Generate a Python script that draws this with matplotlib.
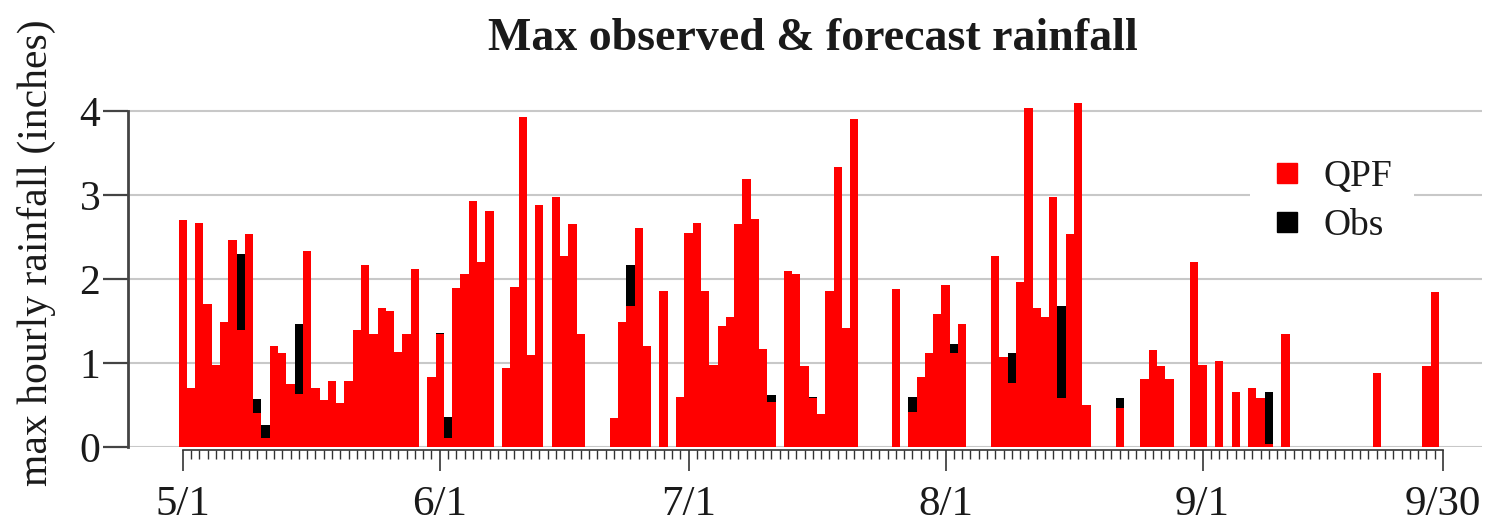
import numpy as np
import pandas as pd
import matplotlib
matplotlib.use("Agg")
import matplotlib.pyplot as plt
from matplotlib.lines import Line2D

# daily max hourly rainfall, 5/1 .. 9/30
days = pd.date_range("2021-05-01", "2021-09-30", freq="D")

qpf = [
    2.70, 0.70, 2.67, 1.70, 0.98, 1.49, 2.46, 1.39, 2.54, 0.40,
    0.11, 1.20, 1.12, 0.75, 0.63, 2.33, 0.70, 0.56, 0.79, 0.52,
    0.79, 1.39, 2.17, 1.34, 1.65, 1.62, 1.13, 1.34, 2.12, 0.00,
    0.83, 1.34, 0.11, 1.89, 2.06, 2.93, 2.20, 2.81, 0.00, 0.94,
    1.91, 3.93, 1.10, 2.88, 0.00, 2.98, 2.27, 2.65, 1.34, 0.00,
    0.00, 0.00, 0.34, 1.49, 1.68, 2.61, 1.20, 0.00, 1.86, 0.00,
    0.60, 2.55, 2.67, 1.86, 0.98, 1.44, 1.55, 2.65, 3.19, 2.72,
    1.17, 0.54, 0.00, 2.10, 2.06, 0.97, 0.58, 0.39, 1.86, 3.33,
    1.42, 3.91, 0.00, 0.00, 0.00, 0.00, 1.88, 0.00, 0.42, 0.83,
    1.12, 1.58, 1.93, 1.12, 1.46, 0.00, 0.00, 0.00, 2.27, 1.07,
    0.76, 1.96, 4.04, 1.65, 1.55, 2.98, 0.58, 2.54, 4.09, 0.50,
    0.00, 0.00, 0.00, 0.46, 0.00, 0.00, 0.81, 1.15, 0.97, 0.81,
    0.00, 0.00, 2.20, 0.98, 0.00, 1.02, 0.00, 0.65, 0.00, 0.70,
    0.58, 0.04, 0.00, 1.34, 0.00, 0.00, 0.00, 0.00, 0.00, 0.00,
    0.00, 0.00, 0.00, 0.00, 0.88, 0.00, 0.00, 0.00, 0.00, 0.00,
    0.97, 1.85, 0.00,
]

# observed values (only the days where obs shows above the forecast)
obs_dates = ["5/8", "5/10", "5/11", "5/15", "6/1", "6/2", "6/24", "7/11",
             "7/16", "7/28", "8/2", "8/9", "8/15", "8/22", "9/9"]
obs_vals = [2.30, 0.575, 0.26, 1.46, 1.36, 0.36, 2.17, 0.62,
            0.60, 0.60, 1.23, 1.12, 1.68, 0.58, 0.65]

labels = ["5/1", "6/1", "7/1", "8/1", "9/1", "9/30"]

plt.rcParams["font.family"] = ["Liberation Serif", "DejaVu Serif"]
txt = "#1a1a1a"

x = np.arange(len(days))
obs = np.zeros(len(days))
for d, v in zip(obs_dates, obs_vals):
    m, dd = d.split("/")
    i = np.where((days.month == int(m)) & (days.day == int(dd)))[0][0]
    obs[i] = v

fig = plt.figure(figsize=(14.89, 5.23), dpi=100)
ax = fig.add_axes([128 / 1489, 1 - 447 / 523, (1482 - 128) / 1489, 352.8 / 523])

ax.bar(x, obs, width=1.0, color="black", linewidth=0, zorder=2)
ax.bar(x, qpf, width=1.0, color="#ff0000", linewidth=0, zorder=3)

ax.set_xlim(-6.6, 156.7)
ax.set_ylim(0, 4.2)

for s in ["top", "right"]:
    ax.spines[s].set_visible(False)
ax.spines["left"].set_bounds(0, 4)
ax.spines["left"].set_color("#444444")
ax.spines["left"].set_linewidth(2)
ax.spines["bottom"].set_bounds(0, len(days) - 1)
ax.spines["bottom"].set_position(("outward", 2))
ax.spines["bottom"].set_color("#333333")
ax.spines["bottom"].set_linewidth(1.2)

ax.set_yticks([0, 1, 2, 3, 4])
ax.tick_params(axis="y", length=18, width=1.6, color="#444444",
               labelsize=30, labelcolor=txt, pad=2)
ax.yaxis.grid(True, color="#c8c8c8", linewidth=1.5, zorder=0)
ax.set_axisbelow(True)

major = [i for i, d in enumerate(days) if d.day == 1] + [len(days) - 1]
ax.set_xticks(major)
ax.set_xticklabels(labels)
ax.set_xticks(x, minor=True)
ax.tick_params(axis="x", which="major", length=15, width=1.2, color="#333333",
               labelsize=31, labelcolor=txt, pad=11)
ax.tick_params(axis="x", which="minor", length=6.5, width=1.0, color="#333333")

handles = [Line2D([], [], marker="s", linestyle="none", color="#ff0000", markersize=14.5),
           Line2D([], [], marker="s", linestyle="none", color="black", markersize=14.5)]
leg = ax.legend(handles, ["QPF", "Obs"], loc="center left",
                bbox_to_anchor=(1250 / 1489, 1 - 201 / 523), bbox_transform=fig.transFigure,
                fontsize=27, frameon=True, facecolor="white", edgecolor="none",
                framealpha=1, handlelength=0.8, handletextpad=0.56,
                labelspacing=0.39, borderpad=0.59, borderaxespad=0,
                fancybox=False)
for t in leg.get_texts():
    t.set_color(txt)
leg.set_zorder(5)

fig.text(813 / 1489, 1 - 39 / 523, "Max observed & forecast rainfall",
         ha="center", va="center", fontsize=33, fontweight="bold", color=txt)
fig.text(36 / 1489, 1 - 253 / 523, "max hourly rainfall (inches)",
         ha="center", va="center", rotation=90, fontsize=30, color=txt)

fig.savefig("out.png", dpi=100)
